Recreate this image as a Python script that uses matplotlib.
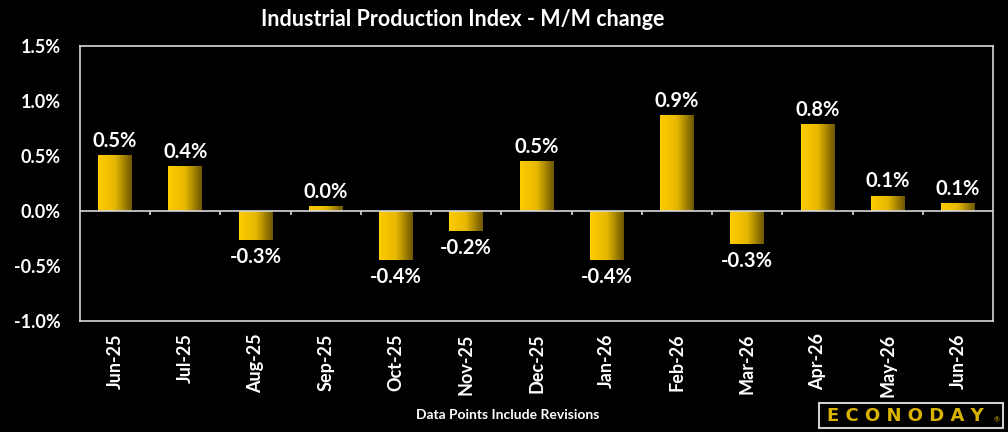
import matplotlib
matplotlib.use("Agg")
import matplotlib.pyplot as plt
import numpy as np
from matplotlib.colors import LinearSegmentedColormap
from matplotlib.patches import Rectangle

categories = ["Jun-25", "Jul-25", "Aug-25", "Sep-25", "Oct-25", "Nov-25", "Dec-25",
              "Jan-26", "Feb-26", "Mar-26", "Apr-26", "May-26", "Jun-26"]
values = [0.51, 0.41, -0.26, 0.045, -0.445, -0.18, 0.455, -0.445, 0.873, -0.30, 0.79, 0.14, 0.073]
labels = ["0.5%", "0.4%", "-0.3%", "0.0%", "-0.4%", "-0.2%", "0.5%",
          "-0.4%", "0.9%", "-0.3%", "0.8%", "0.1%", "0.1%"]
yticks = [-1.0, -0.5, 0.0, 0.5, 1.0, 1.5]
ytick_labels = ["-1.0%", "-0.5%", "0.0%", "0.5%", "1.0%", "1.5%"]

FONT = "Lato"
plt.rcParams["font.family"] = [FONT, "DejaVu Sans"]

fig = plt.figure(figsize=(10.08, 4.32), dpi=100, facecolor="black")
ax = fig.add_axes([80/1008, (432-321)/432, (993-80)/1008, (321-46)/432])
ax.set_facecolor("black")

n = len(categories)
x = np.arange(n)
bar_w = 0.48
bars = ax.bar(x, values, width=bar_w, color="none", edgecolor="none", zorder=2)

cmap = LinearSegmentedColormap.from_list("gold", ["#ffcc00", "#e6b800", "#6b5500"])
grad = np.linspace(0, 1, 256).reshape(1, -1)
for b in bars:
    x0, y0 = b.get_x(), b.get_y()
    w, h = b.get_width(), b.get_height()
    y1, y2 = sorted([y0, y0 + h])
    im = ax.imshow(grad, cmap=cmap, aspect="auto", extent=[x0, x0 + w, y1, y2],
                   zorder=2, interpolation="bilinear")
    im.set_clip_path(b)

ax.set_xlim(-0.5, n - 0.5)
ax.set_ylim(-1.0, 1.5)

# zero line and category separator ticks
ax.axhline(0, color="#d8d8d8", lw=1.2, zorder=3)
ax.vlines(np.arange(0.5, n - 0.5, 1.0), -0.035, 0, color="#d8d8d8", lw=1.2, zorder=3)

for xi, v, lab in zip(x, values, labels):
    if v >= 0:
        ax.annotate(lab, (xi, v), xytext=(0, 3), textcoords="offset points",
                    ha="center", va="bottom", color="white", fontsize=14.5, fontweight="bold")
    else:
        ax.annotate(lab, (xi, v), xytext=(0, -5), textcoords="offset points",
                    ha="center", va="top", color="white", fontsize=14.5, fontweight="bold")

ax.set_yticks(yticks)
ax.set_yticklabels(ytick_labels, color="white", fontsize=13, fontweight="bold")
ax.tick_params(axis="y", length=0, pad=14)
ax.set_xticks(x)
ax.set_xticklabels(categories, rotation=90, color="white", fontsize=13, fontweight="bold")
ax.tick_params(axis="x", length=0, pad=9)

for s in ax.spines.values():
    s.set_color("#d8d8d8")
    s.set_linewidth(1.2)

fig.text(463/1008, 1 - 20/432, "Industrial Production Index - M/M change", ha="center",
         va="center", color="white", fontsize=15.5, fontweight="bold")
fig.text(508/1008, 1 - 415/432, "Data Points Include Revisions", ha="center", va="center",
         color="white", fontsize=10, fontweight="bold")

# logo box
fig.patches.append(Rectangle((819/1008, 1 - 428/432), (1003-819)/1008, (428-403)/432,
                             transform=fig.transFigure, facecolor="black",
                             edgecolor="#d0d0d0", lw=1.5))
fig.text(905/1008, 1 - 416/432, "E C O N O D A Y", ha="center", va="center",
         color="#d9b300", fontsize=13, fontweight="bold", family="DejaVu Sans")
fig.text(997/1008, 1 - 420/432, "®", ha="center", va="center", color="#d9b300", fontsize=5)

fig.savefig("out.png", dpi=100, facecolor="black")
